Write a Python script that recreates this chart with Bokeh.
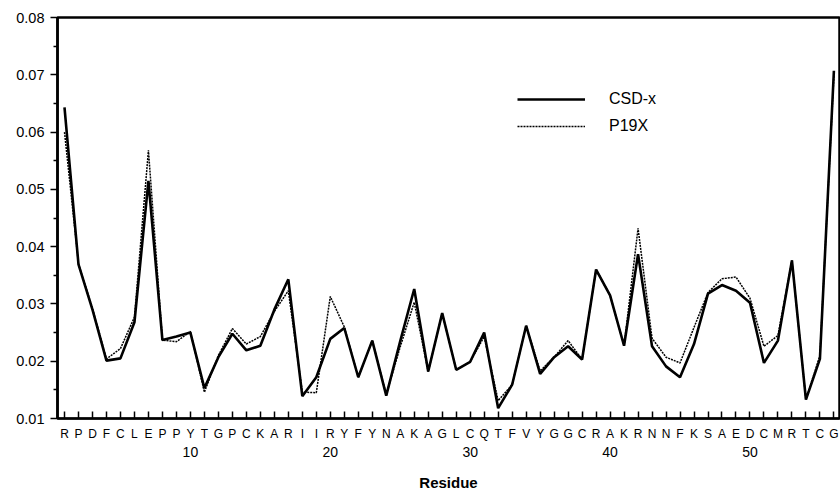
from bokeh.plotting import figure
from bokeh.models import (Range1d, LinearAxis, FixedTicker, PrintfTickFormatter,
                          Legend, LegendItem)
from bokeh.embed import file_html
from bokeh.resources import INLINE

residue_letters = list("RPDFCLEPPYTGPCKARIIRYFYNAKAGLCQTFVYGGCRAKRNNFKSAEDCMRTCG")
residues = list(range(1, len(residue_letters) + 1))

csd_x = [0.0643, 0.0369, 0.0290, 0.0201, 0.0205, 0.0268, 0.0515, 0.0237, 0.0243, 0.0250,
         0.0153, 0.0207, 0.0248, 0.0219, 0.0227, 0.0290, 0.0343, 0.0139, 0.0172, 0.0239,
         0.0258, 0.0172, 0.0236, 0.0140, 0.0235, 0.0326, 0.0182, 0.0284, 0.0185, 0.0199,
         0.0250, 0.0118, 0.0159, 0.0262, 0.0178, 0.0207, 0.0226, 0.0203, 0.0360, 0.0315,
         0.0227, 0.0387, 0.0226, 0.0191, 0.0172, 0.0230, 0.0318, 0.0333, 0.0323, 0.0302,
         0.0197, 0.0236, 0.0376, 0.0133, 0.0204, 0.0707]

p19x = [0.0600, 0.0370, 0.0292, 0.0204, 0.0222, 0.0277, 0.0568, 0.0237, 0.0234, 0.0252,
        0.0146, 0.0210, 0.0257, 0.0230, 0.0243, 0.0287, 0.0323, 0.0146, 0.0145, 0.0313,
        0.0260, 0.0172, 0.0236, 0.0142, 0.0225, 0.0303, 0.0182, 0.0284, 0.0185, 0.0199,
        0.0243, 0.0131, 0.0159, 0.0262, 0.0183, 0.0207, 0.0236, 0.0203, 0.0360, 0.0315,
        0.0227, 0.0432, 0.0240, 0.0207, 0.0197, 0.0259, 0.0320, 0.0344, 0.0347, 0.0310,
        0.0226, 0.0245, 0.0376, 0.0133, 0.0210, 0.0700]

y_ticks = [0.01, 0.02, 0.03, 0.04, 0.05, 0.06, 0.07, 0.08]
number_ticks = [10, 20, 30, 40, 50]

FONT = "Liberation Sans"

p = figure(frame_width=782, frame_height=401, output_backend="svg", toolbar_location=None,
           x_range=Range1d(0.5, 56.4), y_range=Range1d(0.01, 0.08),
           min_border_top=17, min_border_left=57, min_border_right=1, min_border_bottom=0,
           x_axis_type=None, y_axis_type=None)
p.background_fill_color = "white"
p.border_fill_color = "white"
p.outline_line_color = "black"
p.outline_line_width = 2.5
p.xgrid.visible = False
p.ygrid.visible = False

# y axis
yaxis = LinearAxis(ticker=FixedTicker(ticks=y_ticks,
                                      minor_ticks=[0.015, 0.025, 0.035, 0.045, 0.055, 0.065, 0.075]),
                   formatter=PrintfTickFormatter(format="%.2f"))
yaxis.axis_line_width = 2.5
yaxis.major_tick_in = 0
yaxis.major_tick_out = 7
yaxis.major_tick_line_width = 1.5
yaxis.minor_tick_in = 0
yaxis.minor_tick_out = 4
yaxis.minor_tick_line_width = 1.5
yaxis.major_label_text_font = FONT
yaxis.major_label_text_font_size = "14.5px"
yaxis.major_label_text_color = "black"
yaxis.major_label_standoff = 6
p.add_layout(yaxis, "left")

# letter axis
xaxis = LinearAxis(ticker=FixedTicker(ticks=residues, minor_ticks=[]))
xaxis.major_label_overrides = {r: l for r, l in zip(residues, residue_letters)}
xaxis.axis_line_width = 2
xaxis.major_tick_in = 7
xaxis.major_tick_out = 0
xaxis.major_tick_line_width = 1.5
xaxis.minor_tick_line_color = None
xaxis.major_label_text_font = FONT
xaxis.major_label_text_font_size = "12px"
xaxis.major_label_text_color = "black"
xaxis.major_label_standoff = 8
p.add_layout(xaxis, "below")

# numbers axis
naxis = LinearAxis(ticker=FixedTicker(ticks=number_ticks, minor_ticks=[]))
naxis.axis_line_color = None
naxis.major_tick_line_color = None
naxis.minor_tick_line_color = None
naxis.major_tick_in = 0
naxis.major_tick_out = 0
naxis.major_label_text_font = FONT
naxis.major_label_text_font_size = "14px"
naxis.major_label_text_color = "black"
naxis.major_label_standoff = 3
naxis.axis_label = "Residue"
naxis.axis_label_text_font = FONT
naxis.axis_label_text_font_style = "bold"
naxis.axis_label_text_font_size = "15px"
naxis.axis_label_text_color = "black"
naxis.axis_label_standoff = 14
p.add_layout(naxis, "below")

r1 = p.line(residues, csd_x, line_color="black", line_width=2.6)
r2 = p.line(residues, p19x, line_color="black", line_width=1.5, line_dash="2 1")

legend = Legend(items=[LegendItem(label="CSD-x", renderers=[r1]),
                       LegendItem(label="P19X", renderers=[r2])],
                location=(460, 282))
legend.border_line_color = None
legend.background_fill_alpha = 0
legend.padding = 0
legend.margin = 0
legend.spacing = 7
legend.glyph_width = 68
legend.glyph_height = 20
legend.label_height = 20
legend.label_standoff = 24
legend.label_text_font = FONT
legend.label_text_font_size = "16px"
legend.label_text_color = "black"
p.add_layout(legend, "center")

open("out.html", "w").write(file_html(p, INLINE))
